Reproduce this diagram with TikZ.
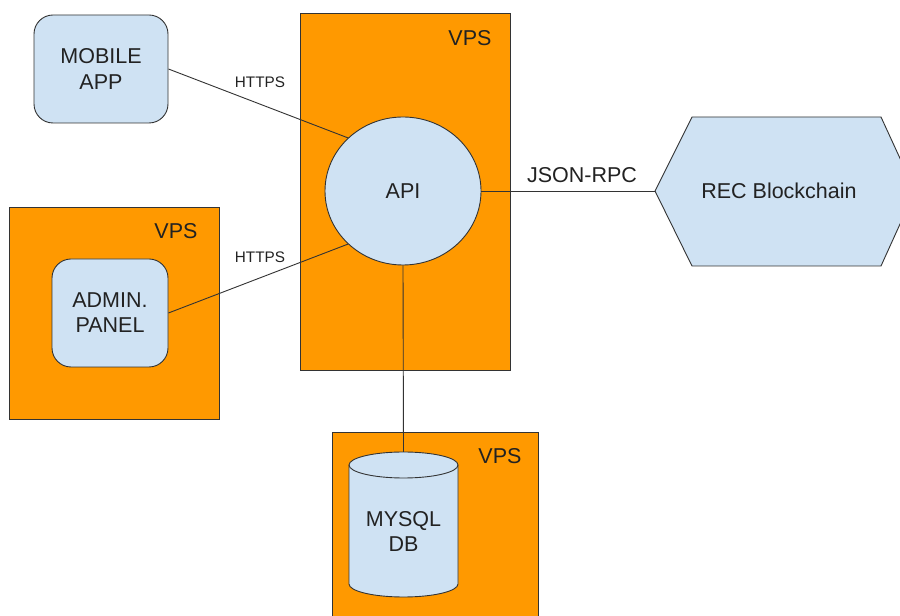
\documentclass[tikz,border=0pt]{standalone}
\usepackage{fontspec}
\setmainfont{Liberation Sans}
\usetikzlibrary{shapes.geometric}
\definecolor{vpsorange}{HTML}{FF9900}
\definecolor{nodeblue}{HTML}{CFE2F3}
\definecolor{edge}{HTML}{333333}
\definecolor{txt}{HTML}{222222}
\begin{document}
\begin{tikzpicture}[x=1pt,y=1pt,
  vpsbox/.style={draw=edge, line width=0.9pt, fill=vpsorange, inner sep=0pt},
  roundbox/.style={draw=edge, line width=0.9pt, fill=nodeblue, rounded corners=19pt, inner sep=0pt,
    align=center, font=\fontsize{21.5}{25}\selectfont, text=txt},
  lbl/.style={font=\fontsize{21.5}{25}\selectfont, text=txt, inner sep=0pt},
  small/.style={font=\fontsize{15.3}{18}\selectfont, text=txt, inner sep=0pt},
  conn/.style={draw=edge, line width=0.9pt}
]
\useasboundingbox (0,0) rectangle (900,616);
\clip (0,0) rectangle (900,616);
\fill[white] (0,0) rectangle (900,616);

% VPS containers
\node[vpsbox, minimum width=210pt, minimum height=212pt] (vpsleft) at (114,303) {};
\node[vpsbox, minimum width=210pt, minimum height=357pt] (vpsmid) at (405,424.5) {};
\node[vpsbox, minimum width=206pt, minimum height=198pt] (vpsbot) at (435,85) {};
\node[lbl] (vpsleftlbl) at (176,385) {VPS};
\node[lbl] (vpsmidlbl) at (470,578) {VPS};
\node[lbl] (vpsbotlbl) at (500,160) {VPS};

% Mobile app and admin panel
\node[roundbox, minimum width=134pt, minimum height=108pt] (mobile) at (101,547) {MOBILE\\APP};
\node[roundbox, minimum width=116pt, minimum height=108pt] (admin) at (110,303) {ADMIN.\\PANEL};

% API
\node[ellipse, draw=edge, line width=0.9pt, fill=nodeblue, minimum width=156pt, minimum height=148pt,
  inner sep=0pt, font=\fontsize{21.5}{25}\selectfont, text=txt] (api) at (403,425) {API};

% REC Blockchain hexagon
\coordinate (hexL) at (655,425);
\draw[draw=edge, line width=0.9pt, fill=nodeblue]
  (hexL) -- (692,499) -- (881,499) -- (915,425) -- (881,350) -- (692,350) -- cycle;
\node[lbl] (rec) at (779,425) {REC Blockchain};

% MySQL cylinder
\coordinate (dbtop) at (403.5,164);
\fill[nodeblue] (349,151) -- (349,32) arc (180:360:54.5 and 13) -- (458,151) arc (0:180:54.5 and 13) -- cycle;
\draw[draw=edge, line width=0.9pt] (349,151) -- (349,32) arc (180:360:54.5 and 13) -- (458,151);
\draw[draw=edge, line width=0.9pt] (403.5,151) ellipse (54.5 and 13);
\node[lbl, align=center] (db) at (403.5,85) {MYSQL\\DB};

% Connectors
\draw[conn] (mobile.east) -- (api.136);
\draw[conn] (admin.east) -- (api.224);
\draw[conn] (api.east) -- (hexL);
\draw[conn] (api.south) -- (dbtop);

% Connector labels
\node[small] (https1) at (260,534) {HTTPS};
\node[small] (https2) at (260,359) {HTTPS};
\node[lbl] (jsonrpc) at (582,441) {JSON-RPC};
\end{tikzpicture}
\end{document}
